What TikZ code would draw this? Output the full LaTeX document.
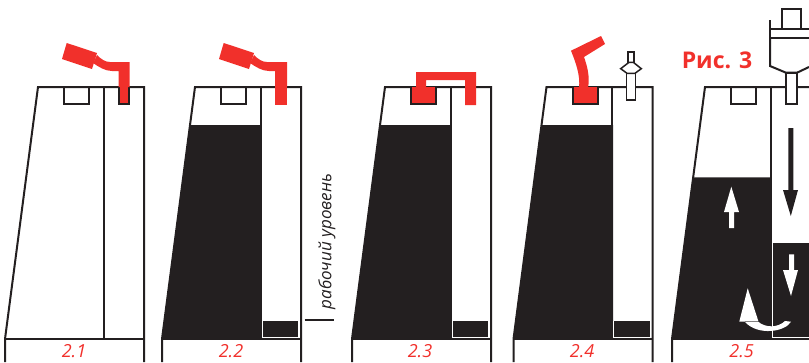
\documentclass[tikz,border=0pt]{standalone}
\usepackage{fontspec}
\setmainfont{Open Sans}
\usetikzlibrary{positioning,arrows.meta,calc}
\definecolor{tankred}{HTML}{F1302B}
\definecolor{tankblack}{HTML}{231F20}
\tikzset{
  wall/.style={draw=tankblack,line width=2pt},
  redpart/.style={fill=tankred,draw=none},
  blackpart/.style={fill=tankblack,draw=none},
  whitepart/.style={fill=white,draw=none},
  caption/.style={font=\itshape\fontsize{18}{18}\selectfont,text=tankred,inner sep=0pt},
}
% tank outline, drawn at the position of panel 2.1
\newcommand{\tankoutline}{
  \draw[wall] (5,362)--(5,339)--(38,87)--(144,87)--(144,362);
  \draw[wall] (5,339)--(144,339);
  \draw[wall] (103.5,87)--(103.5,339);
  \draw[wall] (64,87)--(64,104)--(89,104)--(89,87);
}
\newcommand{\tankfill}[1]{
  \fill[blackpart] (5,339)--({38-33*(#1-87)/252},#1)--(104.5,#1)--(104.5,339)--cycle;
}
\newcommand{\smallblock}{
  \fill[blackpart] (105,321)--(141,321)--(141,337)--(105,337)--cycle;
  \draw[white,line width=0.7pt] (105,321)--(105,337)--(141,337);
}
\begin{document}
\begin{tikzpicture}[x=1pt,y=-1pt]
  \clip (0,0) rectangle (809,362);
  % panel 2.1
  \tankoutline
  \fill[redpart] (119,87)--(129,87)--(129,104)--(119,104)--cycle;
  \draw[wall] (118.5,87)--(118.5,104)--(129,104)--(129,87);
  \fill[redpart] (66.7,43)--(97,53)--(92,69)--(62,59)--cycle;
  \fill[redpart] (97,55) .. controls (101,59) and (105,62) .. (110,62)--(129.5,62)--(129.5,87)--(118.5,87)--(118.5,71)--(112,71) .. controls (105,71) and (99,67) .. (93,63)--cycle;
  \node[caption] (cap1) at (74,351) {2.1};
  % panel 2.2
  \begin{scope}[shift={(157,0)}]
    \tankfill{125}
    \tankoutline
    \smallblock
    \fill[redpart] (118,86)--(130,86)--(130,105)--(118,105)--cycle;
    \fill[redpart] (66.7,43)--(97,53)--(92,69)--(62,59)--cycle;
    \fill[redpart] (97,55) .. controls (101,59) and (105,62) .. (110,62)--(130,62)--(130,87)--(118,87)--(118,71)--(112,71) .. controls (105,71) and (99,67) .. (93,63)--cycle;
    \node[caption] (cap2) at (74,351) {2.2};
  \end{scope}
  \draw[wall] (304.7,319.7)--(333.7,319.7);
  \node[rotate=90,inner sep=0pt,text=tankblack,font=\itshape\fontsize{17}{17}\selectfont] (level) at (327,241.5) {рабочий уровень};
  % panel 2.3
  \begin{scope}[shift={(347,0)}]
    \tankfill{125}
    \tankoutline
    \smallblock
    \fill[redpart] (64,87)--(89,87)--(89,104)--(64,104)--cycle;
    \draw[wall] (64,87)--(64,104)--(89,104)--(89,87);
    \fill[redpart] (69,87)--(69,72)--(129,72)--(129,105)--(118,105)--(118,80)--(79,80)--(79,87)--cycle;
    \node[caption] (cap3) at (73,351) {2.3};
  \end{scope}
  % panel 2.4
  \begin{scope}[shift={(508.5,0)}]
    \tankfill{125}
    \tankoutline
    \smallblock
    \fill[redpart] (64,87)--(89,87)--(89,104)--(64,104)--cycle;
    \draw[wall] (64,87)--(64,104)--(89,104)--(89,87);
    \fill[redpart] (96.5,44)--(92.5,36)--(62.5,50.7) .. controls (67,62) and (72,75) .. (70.5,88)--(79.5,88) .. controls (81.5,77) and (79,67) .. (75.5,57)--cycle;
    \node[caption] (cap4) at (73.5,351) {2.4};
  \end{scope}
  % valve
  \draw[wall,line width=1.5pt,fill=white] (626.7,73.3)--(626.7,100)--(635.7,100)--(635.7,73.3)--cycle;
  \draw[wall,line width=1.5pt,fill=white] (628,62.3)--(628,52)--(634,52)--(634,62.3)--cycle;
  \draw[wall,line width=1.5pt,fill=white] (620.7,68.7)--(629,62.3)--(633.3,62.3)--(641.3,68.7)--(635,73.3)--(627,73.3)--cycle;
  % panel 2.5
  \begin{scope}[shift={(667,0)}]
    \tankfill{177.3}
    \tankoutline
    \fill[blackpart] (105.7,243)--(150,243)--(150,337)--(105.7,337)--cycle;
    \draw[white,line width=0.7pt] (105.7,243)--(105.7,337)--(150,337);
    \node[caption] (cap5) at (74.5,351) {2.5};
  \end{scope}
  % dispenser
  \draw[wall] (769.5,20)--(769.5,44);
  \draw[wall] (770,29)--(809,29);
  \draw[wall] (770,37.7)--(809,37.7);
  \draw[wall] (781.7,29)--(781.7,9.3)--(801,9.3)--(801,29);
  \draw[wall] (770,37.7)--(770,66)--(786,72.7)--(797,72.7)--(809,67);
  \draw[wall,fill=white] (786,72.7)--(786,104)--(797,104)--(797,72.7)--cycle;
  % arrows
  \fill[blackpart] (788.3,128)--(793.3,128)--(793.3,190)--(798,190)--(790.8,216)--(783,190)--(788.3,190)--cycle;
  \fill[whitepart] (731.3,186.7)--(739,212)--(734,212)--(734,228)--(729,228)--(729,212)--(724,212)--cycle;
  \fill[whitepart] (789,254.3)--(794,254.3)--(794,270)--(798,270)--(791,296)--(783,270)--(789,270)--cycle;
  \fill[whitepart] (791,321.7) .. controls (785,332) and (758,336) .. (745,322)--(758,321.5) .. controls (765,328) and (778,328) .. (785,321)--cycle;
  \fill[whitepart] (747.7,288.3)--(758.3,321)--(739.3,321.7)--cycle;
  \node[font=\bfseries\fontsize{23}{23}\selectfont,text=tankred,inner sep=0pt] (fig) at (717,60) {Рис. 3};
\end{tikzpicture}
\end{document}
